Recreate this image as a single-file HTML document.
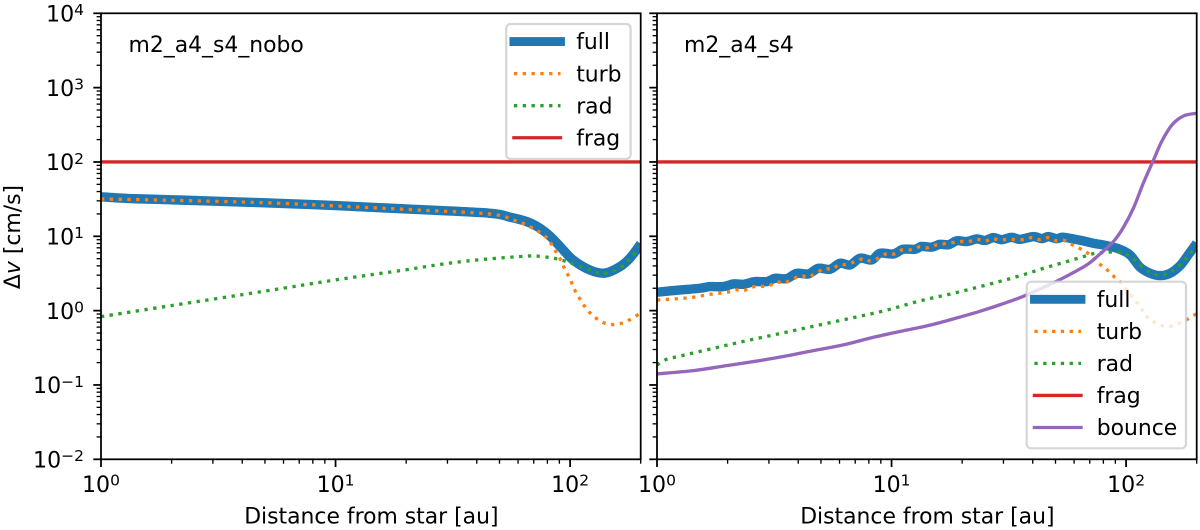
<!DOCTYPE html>
<html>
<head>
<meta charset="utf-8">
<title>Relative velocity chart</title>
<style>
html,body{margin:0;padding:0;background:#fff;width:1200px;height:530px;overflow:hidden}
svg{display:block}
text{font-family:"DejaVu Sans","Liberation Sans",sans-serif;fill:#000}
</style>
</head>
<body>
<svg id="chart" xmlns="http://www.w3.org/2000/svg" width="1200" height="530" viewBox="0 0 1200 530">
<defs>
<clipPath id="clip-left"><rect x="101" y="13.3" width="539.7" height="446"/></clipPath>
<clipPath id="clip-right"><rect x="657" y="13.3" width="539.7" height="446"/></clipPath>
</defs>
</svg>
<script>
// ---- axis data ----
const xMajorExponents = [0, 1, 2];
const yMajorExponents = [4, 3, 2, 1, 0, -1, -2];
const minorMultipliers = [2, 3, 4, 5, 6, 7, 8, 9];
const fragLevel = [100];

// ---- left panel: m2_a4_s4_nobo ----
const leftFullX = [1,1.15,1.4,2,2.74,5,10,20,45,55,62,68,74.5,82,90.6,103,122,141,163,180,200];
const leftFullV = [34,33,32,31,30,28.2,25.9,23.3,20.5,18.2,16.6,15,12.8,10.1,7.3,4.8,3.5,3.2,3.9,5.1,7.9];
const leftTurbX = [1,2,5,10,20,45,57.5,67,74.5,80,84.4,88,92,95,99,102.6,106,111,116,123,131,142,154,167,180,194,200];
const leftTurbV = [31.8,30.5,28.3,25.6,23,20,16.5,13.6,11.2,9.4,7.3,5.8,4.56,3.6,2.84,2.2,1.75,1.38,1.11,0.9,0.765,0.67,0.65,0.68,0.757,0.875,0.93];
const leftRadX = [1,2,5,10,20,27,40,67,74.5,82,89,97,105,114,124,133,145,157,169,179,189,200];
const leftRadV = [0.83,1.17,1.83,2.59,3.55,4.12,4.8,5.44,5.33,5.17,4.92,4.56,4.16,3.79,3.45,3.21,3.21,3.53,4.08,4.96,6,7.6];

// ---- right panel: m2_a4_s4 ----
const rightFullX = [1,1.174,1.525,1.683,1.918,2.116,2.334,2.617,2.936,3.186,3.573,3.94,4.42,4.875,5.47,6.03,6.65,7.34,8.23,8.93,10.2,11.2,12.6,13.4,14.8,16.1,17.5,19,20.9,23.1,25,27.2,29.5,32.5,35.3,40.3,43.7,46.6,50.6,54.1,63.7,72.4,82.6,94,104,114.6,126.6,139.6,154,170,184,200];
const rightFullV = [1.77,1.86,2,2.105,2.105,2.287,2.263,2.458,2.458,2.726,2.697,3.18,3.117,3.715,3.6,4.34,4.12,5.07,4.81,5.91,5.79,6.69,6.69,7.3,7.15,7.8,7.7,8.7,8.5,9.2,8.8,9.6,9,9.7,9.1,9.9,9.3,9.9,9.3,9.7,8.85,8.07,7.5,6.7,5.6,3.84,3.18,2.96,3.18,4.04,5.62,8.1];
const rightTurbX = [1,1.197,1.42,1.69,2,2.17,2.35,2.54,2.97,3.23,3.51,4.08,4.43,5.15,5.56,5.99,6.48,7.58,8.23,9.54,10.3,11.1,12,13.1,14.1,15.3,16.6,19.6,21.3,23.1,25,26.9,29,31.5,36.5,39.6,42.8,46.3,50.1,54.3,58.4,63.2,67.9,72.5,76.9,82.2,87.5,93,98.4,104,109,115.5,120.5,128.7,139.6,151.5,165.5,178.5,192,200];
const rightTurbV = [1.39,1.44,1.51,1.66,1.77,1.9,1.86,2.08,2.15,2.43,2.38,2.93,2.84,3.64,3.6,4.16,4.2,5.01,4.66,5.85,5.79,6.56,6.56,7.2,6.97,7.58,7.9,8.49,8.49,9.12,8.6,9.3,8.9,9.1,9,9.6,9,9.6,8.75,8.85,7.8,6.9,6.1,4.96,4.25,3.64,2.99,2.53,2.04,1.68,1.39,1.1,0.875,0.734,0.642,0.61,0.662,0.734,0.849,0.9];
const rightRadX = [1,1.1,1.278,1.79,2.49,3.49,4.86,6.79,9.47,13.2,19.6,32.5,45,57.7,68,73.8,80,87.7,95.5,103,110,118,127,136,148,159,170,180,190.6,200];
const rightRadV = [0.186,0.222,0.248,0.318,0.403,0.506,0.636,0.798,1.01,1.35,1.8,2.73,3.75,4.71,5.5,5.91,6.04,6.16,6.04,5.44,4.71,3.83,3.25,3.02,3.12,3.49,4.16,5.01,6.23,7.7];
const rightBounceX = [1,1.43,1.98,2.75,3.57,4.64,6.23,8.37,10.9,13.7,16.1,19.6,23.8,29,36.5,45.9,55.9,68,77.5,88.3,97.4,107.5,118.6,131,142,157,176,200];
const rightBounceV = [0.141,0.156,0.182,0.213,0.246,0.29,0.346,0.438,0.525,0.61,0.69,0.82,0.98,1.2,1.56,2.15,2.92,4.12,5.8,8.5,13.2,24,52.5,107,190,316,417,452];

const svgNS = 'http://www.w3.org/2000/svg';
const svg = document.getElementById('chart');

const DECADE_X = 234.55, TOP = 13.3, BOTTOM = 459.3, PANEL_W = 539.7;
const DECADE_Y = (BOTTOM - TOP) / 6;
const LEFT_X0 = 101, RIGHT_X0 = 657;
const FONT = 21.9;

function xScale(x0, v) { return x0 + Math.log10(v) * DECADE_X; }
function yScale(v) { return TOP + (4 - Math.log10(v)) * DECADE_Y; }

function make(tag, attrs, parent) {
  const el = document.createElementNS(svgNS, tag);
  for (const k in attrs) el.setAttribute(k, attrs[k]);
  (parent || svg).appendChild(el);
  return el;
}

function smoothPath(pts) {
  let d = 'M' + pts[0][0].toFixed(2) + ' ' + pts[0][1].toFixed(2);
  for (let i = 0; i < pts.length - 1; i++) {
    const p0 = pts[Math.max(0, i - 1)], p1 = pts[i], p2 = pts[i + 1], p3 = pts[Math.min(pts.length - 1, i + 2)];
    const c1x = p1[0] + (p2[0] - p0[0]) / 6, c1y = p1[1] + (p2[1] - p0[1]) / 6;
    const c2x = p2[0] - (p3[0] - p1[0]) / 6, c2y = p2[1] - (p3[1] - p1[1]) / 6;
    d += 'C' + c1x.toFixed(2) + ' ' + c1y.toFixed(2) + ' ' + c2x.toFixed(2) + ' ' + c2y.toFixed(2) + ' ' + p2[0].toFixed(2) + ' ' + p2[1].toFixed(2);
  }
  return d;
}

const seriesStyle = {
  full:   {stroke:'#1f77b4', width:9.4, dash:null},
  turb:   {stroke:'#ff7f0e', width:3.32, dash:'3.32 5.48'},
  rad:    {stroke:'#2ca02c', width:3.32, dash:'3.32 5.48'},
  frag:   {stroke:'#d62728', width:3.32, dash:null},
  bounce: {stroke:'#9467bd', width:3.32, dash:null}
};

function drawSeries(group, x0, key, xs, vs, panel) {
  const st = seriesStyle[key];
  const pts = xs.map((x, i) => [xScale(x0, x), yScale(vs[i])]);
  const p = make('path', {d: smoothPath(pts), fill:'none', stroke:st.stroke, 'stroke-width':st.width, 'stroke-linejoin':'round'}, group);
  if (st.dash) p.setAttribute('stroke-dasharray', st.dash);
  
  
}

function drawFrag(group, x0, panel) {
  const st = seriesStyle.frag;
  const yy = yScale(fragLevel[0]);
  const l = make('line', {x1:x0, x2:x0 + PANEL_W, y1:yy, y2:yy, stroke:st.stroke, 'stroke-width':st.width}, group);
  
  
}

function powerLabel(parent, anchorX, baseline, exp, anchor, name) {
  const FS = 22.1, SUP = 15.5;
  const supStr = exp < 0 ? '\u2212' + Math.abs(exp) : String(exp);
  const supW = (exp < 0 ? 1.474 : 0.636) * SUP;
  const total = 1.272 * FS + supW;
  const startX = anchor === 'end' ? anchorX - total : anchorX - total / 2;
  const t = make('text', {x:startX, y:baseline, 'font-size':FS}, parent);
  
  
  t.textContent = '10';
  const s = make('tspan', {x:startX + 1.272 * FS, y:baseline - 6.3, 'font-size':SUP}, t);
  s.textContent = supStr;
}

function drawAxes(x0, panel, showY) {
  const g = make('g', {}, svg);
  
  

  make('rect', {x:x0, y:TOP, width:PANEL_W, height:BOTTOM - TOP, fill:'none', stroke:'#000', 'stroke-width':1.77}, g);

  xMajorExponents.forEach(e => {
    const v = Math.pow(10, e), px = xScale(x0, v);
    const tick = make('line', {x1:px, x2:px, y1:BOTTOM, y2:BOTTOM + 7.7, stroke:'#000', 'stroke-width':1.77}, g);
    
    
    powerLabel(g, px, 492, e, 'middle', panel + '-x-tick-label');
    minorMultipliers.forEach(m => {
      const mv = m * v;
      if (mv > 200) return;
      const mx = xScale(x0, mv);
      const mt = make('line', {x1:mx, x2:mx, y1:BOTTOM, y2:BOTTOM + 4.4, stroke:'#000', 'stroke-width':1.33}, g);
      
      
    });
  });

  yMajorExponents.forEach(e => {
    const v = Math.pow(10, e), py = yScale(v);
    const tick = make('line', {x1:x0 - 7.7, x2:x0, y1:py, y2:py, stroke:'#000', 'stroke-width':1.77}, g);
    
    
    if (showY) powerLabel(g, 84, py + 8.2, e, 'end', panel + '-y-tick-label');
    minorMultipliers.forEach(m => {
      const mv = m * v;
      if (mv > 10000) return;
      const my = yScale(mv);
      const mt = make('line', {x1:x0 - 4.4, x2:x0, y1:my, y2:my, stroke:'#000', 'stroke-width':1.33}, g);
      
      
    });
  });

  const xt = make('text', {x:x0 + PANEL_W / 2 + 0.5, y:523.5, 'font-size':FONT, 'text-anchor':'middle'}, g);
  
  
  xt.textContent = 'Distance from star [au]';
}

function drawLegend(panel, bx, by, bw, bh, entries) {
  const g = make('g', {}, svg);
  
  
  const box = make('rect', {x:bx, y:by, width:bw, height:bh, rx:4.4, ry:4.4, fill:'#fff', 'fill-opacity':0.8, stroke:'#ccc', 'stroke-opacity':0.8, 'stroke-width':2.2}, g);
  
  
  const firstY = by + 17.6, step = 32.05;
  entries.forEach((key, i) => {
    const st = seriesStyle[key];
    const yy = firstY + i * step;
    const h = make('line', {x1:bx + 7.7, x2:bx + 54.3, y1:yy, y2:yy, stroke:st.stroke, 'stroke-width':key === 'full' ? 8.84 : st.width}, g);
    if (st.dash) h.setAttribute('stroke-dasharray', st.dash);
    else h.setAttribute('stroke-linecap', 'square');
    
    
    const t = make('text', {x:bx + 70, y:yy + 7.6, 'font-size':FONT}, g);
    
    
    t.textContent = key;
  });
}

// left panel series
const leftLines = make('g', {'clip-path':'url(#clip-left)'}, svg);


drawSeries(leftLines, LEFT_X0, 'full', leftFullX, leftFullV, 'left');
drawSeries(leftLines, LEFT_X0, 'turb', leftTurbX, leftTurbV, 'left');
drawSeries(leftLines, LEFT_X0, 'rad', leftRadX, leftRadV, 'left');
drawFrag(leftLines, LEFT_X0, 'left');

// right panel series
const rightLines = make('g', {'clip-path':'url(#clip-right)'}, svg);


drawSeries(rightLines, RIGHT_X0, 'full', rightFullX, rightFullV, 'right');
drawSeries(rightLines, RIGHT_X0, 'turb', rightTurbX, rightTurbV, 'right');
drawSeries(rightLines, RIGHT_X0, 'rad', rightRadX, rightRadV, 'right');
drawFrag(rightLines, RIGHT_X0, 'right');
drawSeries(rightLines, RIGHT_X0, 'bounce', rightBounceX, rightBounceV, 'right');

drawAxes(LEFT_X0, 'left', true);
drawAxes(RIGHT_X0, 'right', false);

// panel annotations
const noteLeft = make('text', {x:128.5, y:52, 'font-size':FONT});


noteLeft.textContent = 'm2_a4_s4_nobo';
const noteRight = make('text', {x:684, y:52, 'font-size':FONT});


noteRight.textContent = 'm2_a4_s4';

// y axis title
const yTitle = make('text', {transform:'translate(20 237) rotate(-90)', 'font-size':FONT, 'text-anchor':'middle'});


const yDelta = make('tspan', {}, yTitle);
yDelta.textContent = '\u0394';
const yV = make('tspan', {'font-style':'italic'}, yTitle);
yV.textContent = 'v';
const yUnit = make('tspan', {}, yTitle);
yUnit.textContent = ' [cm/s]';

drawLegend('left', 506.2, 24, 124.4, 135, ['full', 'turb', 'rad', 'frag']);
drawLegend('right', 1026.7, 281.7, 159.3, 166.6, ['full', 'turb', 'rad', 'frag', 'bounce']);
</script>
</body>
</html>
